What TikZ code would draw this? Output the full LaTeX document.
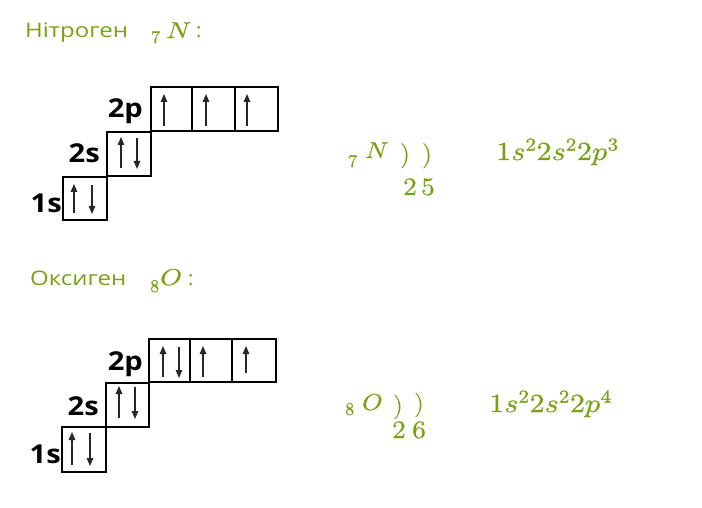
\documentclass[tikz,border=0pt]{standalone}
\usepackage{fontspec}
\usepackage{unicode-math}
\setmathfont{Latin Modern Math}[FakeBold=0.7]
\usepackage{graphicx}
\newfontfamily\osans{Open Sans}
\newfontfamily\osansb{Open Sans Bold}
\usetikzlibrary{arrows.meta}
\definecolor{chemgreen}{RGB}{120,162,20}
\newcommand{\wx}[2]{\scalebox{#1}[1]{#2}}
\tikzset{
  orb/.style={draw=black, line width=1.8pt},
  spin/.style={draw=black!85, line width=1.3pt, -{Triangle[length=8pt,width=6.5pt]}},
  lbl/.style={inner sep=0pt, anchor=base east, font=\osansb\fontsize{26}{28}\selectfont},
  ttl/.style={inner sep=0pt, anchor=base west, text=chemgreen, font=\osans\fontsize{20}{22}\selectfont},
  gm/.style={inner sep=0pt, text=chemgreen},
}
\begin{document}
\begin{tikzpicture}[x=1pt,y=-1pt]
\useasboundingbox (0,0) rectangle (702,508);
\fill[white] (0,0) rectangle (702,508);
% ---------- Nitrogen ----------
\node[ttl] (tN) at (25,38) {\wx{1.2}{Нітроген}};
\node[gm, anchor=base west, font=\fontsize{18}{20}\selectfont] (tN7) at (151,43) {$7$};
\node[gm, anchor=base west, font=\fontsize{23}{25}\selectfont] (tNN) at (166,38) {\wx{1.2}{$N$}};
\node[ttl] (tNc) at (196,38) {:};
% boxes
\draw[orb] (63,177) rectangle (107,220);
\draw[orb] (107,132) rectangle (151,176);
\draw[orb] (151,87) rectangle (278,131);
\draw[orb] (192,87) -- (192,131);
\draw[orb] (235,87) -- (235,131);
\node[lbl] (N1s) at (62,212) {\wx{1.12}{1s}};
\node[lbl] (N2s) at (100,163) {\wx{1.12}{2s}};
\node[lbl] (N2p) at (143,118) {\wx{1.12}{2p}};
\draw[spin] (74,213) -- (74,184);
\draw[spin] (92,185) -- (92,214);
\draw[spin] (121,168) -- (121,137);
\draw[spin] (137,138) -- (137,169);
\draw[spin] (164,126) -- (164,94);
\draw[spin] (206,126) -- (206,94);
\draw[spin] (247,126) -- (247,94);
% shells
\node[gm, anchor=base west, font=\fontsize{18}{20}\selectfont] (sN7) at (348,167) {$7$};
\node[gm, anchor=base west, font=\fontsize{23}{25}\selectfont] (sNN) at (365,158) {\wx{1.12}{$N$}};
\node[gm, anchor=base, font=\fontsize{25}{27}\selectfont] (sNp1) at (405,162) {$)$};
\node[gm, anchor=base, font=\fontsize{25}{27}\selectfont] (sNp2) at (427,162) {$)$};
\node[gm, anchor=base, font=\fontsize{25}{27}\selectfont] (sN2) at (410,195) {\wx{1.1}{$2$}};
\node[gm, anchor=base, font=\fontsize{25}{27}\selectfont] (sN5) at (428,195) {\wx{1.1}{$5$}};
\node[gm, anchor=base west, font=\fontsize{26}{28}\selectfont] (cN) at (496,160) {\wx{1.16}{$1s^22s^22p^3$}};
% ---------- Oxygen ----------
\node[ttl] (tO) at (30,285) {\wx{1.2}{Оксиген}};
\node[gm, anchor=base west, font=\fontsize{18}{20}\selectfont] (tO8) at (150,292) {$8$};
\node[gm, anchor=base west, font=\fontsize{23}{25}\selectfont] (tOO) at (160,285) {\wx{1.2}{$O$}};
\node[ttl] (tOc) at (188,285) {:};
\draw[orb] (62,427) rectangle (106,472);
\draw[orb] (106,383) rectangle (149,427);
\draw[orb] (149,339) rectangle (276,382);
\draw[orb] (190,339) -- (190,382);
\draw[orb] (232,339) -- (232,382);
\node[lbl] (O1s) at (61,463) {\wx{1.12}{1s}};
\node[lbl] (O2s) at (99,415) {\wx{1.12}{2s}};
\node[lbl] (O2p) at (143,370) {\wx{1.12}{2p}};
\draw[spin] (72,465) -- (72,432);
\draw[spin] (90,433) -- (90,466);
\draw[spin] (119,418) -- (119,386);
\draw[spin] (135,387) -- (135,419);
\draw[spin] (163,377) -- (163,346);
\draw[spin] (179,347) -- (179,378);
\draw[spin] (203,377) -- (203,346);
\draw[spin] (246,373) -- (246,346);
\node[gm, anchor=base west, font=\fontsize{18}{20}\selectfont] (sO8) at (345,415) {$8$};
\node[gm, anchor=base west, font=\fontsize{23}{25}\selectfont] (sOO) at (362,410) {\wx{1.12}{$O$}};
\node[gm, anchor=base, font=\fontsize{24}{26}\selectfont] (sOp1) at (398,413) {$)$};
\node[gm, anchor=base, font=\fontsize{24}{26}\selectfont] (sOp2) at (419,411) {$)$};
\node[gm, anchor=base, font=\fontsize{25}{27}\selectfont] (sO2) at (399,438) {\wx{1.1}{$2$}};
\node[gm, anchor=base, font=\fontsize{25}{27}\selectfont] (sO6) at (419,438) {\wx{1.1}{$6$}};
\node[gm, anchor=base west, font=\fontsize{26}{28}\selectfont] (cO) at (489,412) {\wx{1.16}{$1s^22s^22p^4$}};
\end{tikzpicture}
\end{document}
